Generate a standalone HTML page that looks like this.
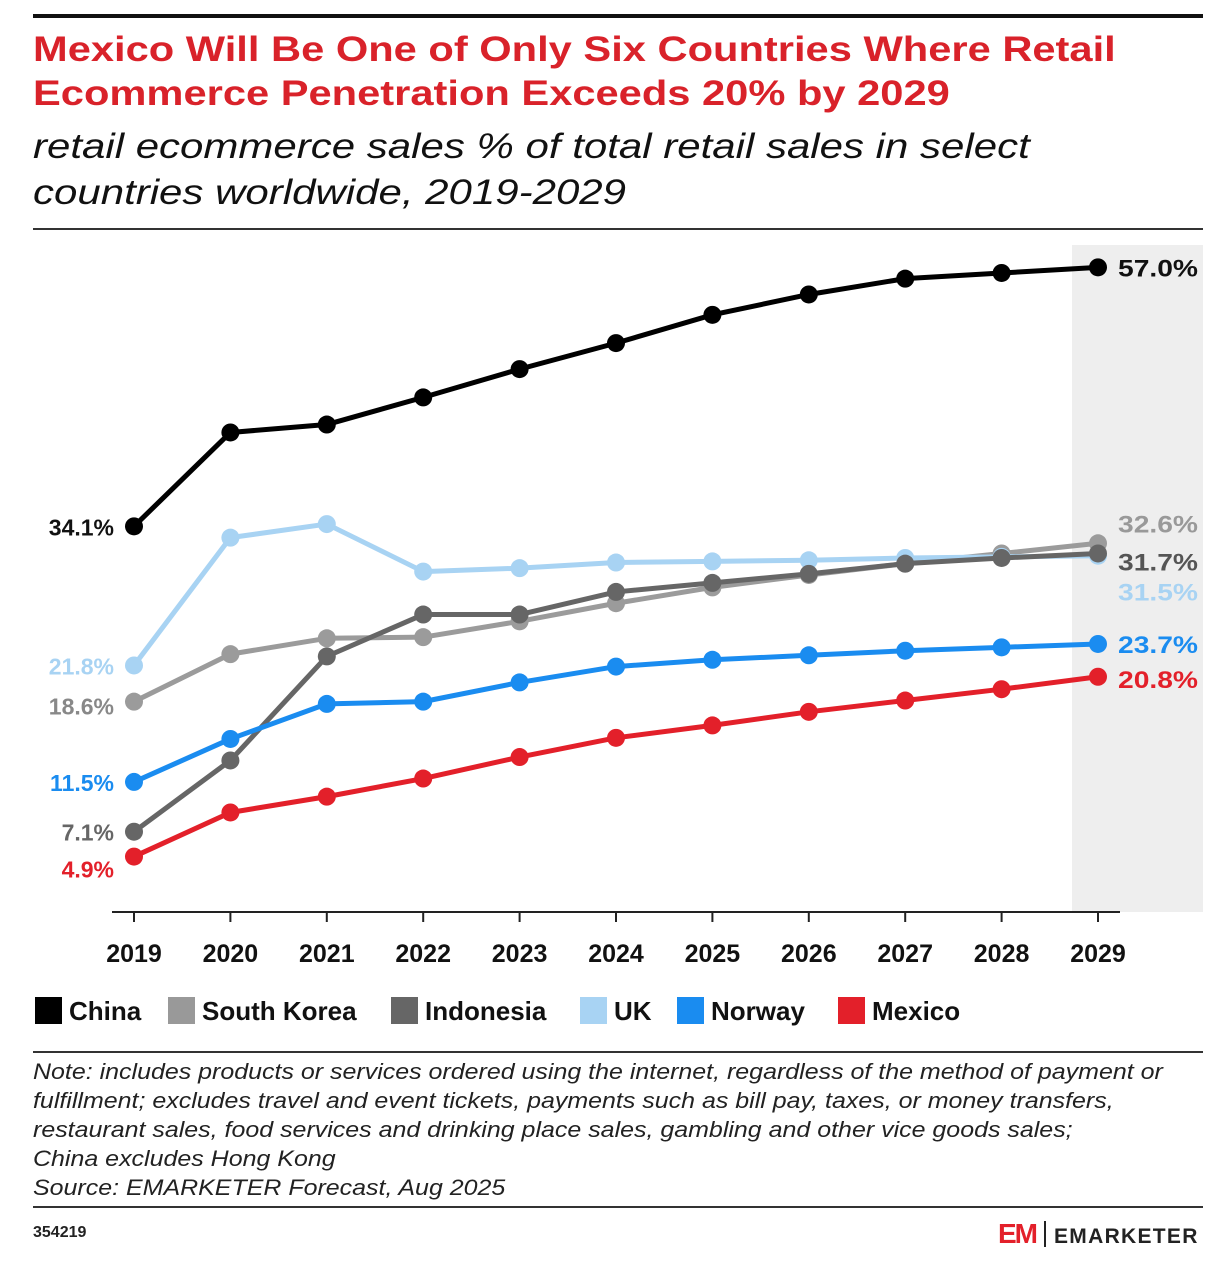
<!DOCTYPE html>
<html><head><meta charset="utf-8"><style>
body{margin:0;background:#fff;width:1220px;height:1280px;overflow:hidden;font-family:"Liberation Sans",sans-serif;position:relative}
.abs{position:absolute}
</style></head><body>
<div class="abs" style="left:33px;top:14px;width:1170px;height:4px;background:#111"></div>
<div class="abs" style="left:33px;top:28px;font-size:35px;font-weight:bold;color:#d9222a;line-height:44px;transform:scaleX(1.19);transform-origin:left top;white-space:nowrap">Mexico Will Be One of Only Six Countries Where Retail<br>Ecommerce Penetration Exceeds 20% by 2029</div>
<div class="abs" style="left:33px;top:124px;font-size:35px;font-style:italic;color:#111;line-height:46px;transform:scaleX(1.2);transform-origin:left top;white-space:nowrap">retail ecommerce sales % of total retail sales in select<br>countries worldwide, 2019-2029</div>
<div class="abs" style="left:33px;top:228px;width:1170px;height:2px;background:#333"></div>
<svg class="abs" style="left:0;top:0" width="1220" height="1280" id="chart"></svg>
<div class="abs" style="left:33px;top:1051px;width:1170px;height:2px;background:#333"></div>
<div class="abs" style="left:33px;top:1057px;font-size:22px;font-style:italic;color:#222;line-height:29px;transform:scaleX(1.135);transform-origin:left top;white-space:nowrap">Note: includes products or services ordered using the internet, regardless of the method of payment or<br>fulfillment; excludes travel and event tickets, payments such as bill pay, taxes, or money transfers,<br>restaurant sales, food services and drinking place sales, gambling and other vice goods sales;<br>China excludes Hong Kong<br>Source: EMARKETER Forecast, Aug 2025</div>
<div class="abs" style="left:33px;top:1206px;width:1170px;height:2px;background:#333"></div>
<div class="abs" style="left:33px;top:1224px;font-size:16px;font-weight:bold;color:#222">354219</div>
<div class="abs" style="left:998px;top:1218px;font-size:21px;font-weight:bold;color:#222;letter-spacing:1.3px"><span style="color:#e3202a;font-size:28px;letter-spacing:-2px">EM</span><span style="display:inline-block;width:2px;height:26px;background:#222;margin:0 8px;vertical-align:-4px"></span>EMARKETER</div>
<script>
const years=[2019,2020,2021,2022,2023,2024,2025,2026,2027,2028,2029];
const china=[34.1,42.4,43.1,45.5,48.0,50.3,52.8,54.6,56.0,56.5,57.0];
const southKorea=[18.6,22.8,24.2,24.3,25.7,27.3,28.7,29.8,30.8,31.7,32.6];
const indonesia=[7.1,13.4,22.6,26.3,26.3,28.3,29.1,29.9,30.8,31.3,31.7];
const uk=[21.8,33.1,34.3,30.1,30.4,30.9,31.0,31.1,31.3,31.4,31.5];
const norway=[11.5,15.3,18.4,18.6,20.3,21.7,22.3,22.7,23.1,23.4,23.7];
const mexico=[4.9,8.8,10.2,11.8,13.7,15.4,16.5,17.7,18.7,19.7,20.8];
const seriesNames=["China","South Korea","Indonesia","UK","Norway","Mexico"];
const NS="http://www.w3.org/2000/svg",svg=document.getElementById('chart');
const x=i=>134+i*96.4, y=v=>912-v*11.31;
function mk(t,a,p){const e=document.createElementNS(NS,t);for(const k in a)e.setAttribute(k,a[k]);(p||svg).appendChild(e);return e;}
const shade=mk('rect',{x:1072,y:245,width:131,height:667,fill:'#eeeeee'});


const ax=mk('line',{x1:112,x2:1120,y1:912,y2:912,stroke:'#222','stroke-width':2});


years.forEach((yr,i)=>{
 mk('line',{x1:x(i),x2:x(i),y1:912,y2:922,stroke:'#222','stroke-width':2});
 const t=mk('text',{x:x(i),y:962,'text-anchor':'middle','font-size':25,'font-weight':'bold',fill:'#111'});t.textContent=yr;
 
 
});
const defs=[[southKorea,'#9b9b9b','south-korea'],[uk,'#a8d3f3','uk'],[indonesia,'#666666','indonesia'],[norway,'#1a8cf0','norway'],[mexico,'#e3202a','mexico'],[china,'#000000','china']];
defs.forEach(([d,c,n])=>{
 const g=mk('g',{});
 
 
 mk('polyline',{points:d.map((v,i)=>x(i)+','+y(v)).join(' '),fill:'none',stroke:c,'stroke-width':5,'stroke-linejoin':'round'},g);
 d.forEach((v,i)=>{const p=mk('circle',{cx:x(i),cy:y(v),r:9,fill:c},g);
  
  });
});
const startLabels=[[china,'#111',0],[uk,'#a8d3f3',0],[southKorea,'#888',4],[norway,'#1a8cf0',0],[indonesia,'#666',0],[mexico,'#e3202a',12]];
startLabels.forEach(([d,c,dy])=>{const t=mk('text',{x:114,y:y(d[0])+9+dy,'text-anchor':'end','font-size':23,'font-weight':'bold',fill:c});t.textContent=d[0].toFixed(1)+'%';
 
 });
const endLabels=[[china,'#111',0],[southKorea,'#999',-20],[indonesia,'#555',8],[uk,'#a8d3f3',36],[norway,'#1a8cf0',0],[mexico,'#e3202a',2]];
endLabels.forEach(([d,c,dy])=>{const t=mk('text',{x:1118,y:y(d[10])+9+dy,'font-size':24,'font-weight':'bold',fill:c,textLength:80,lengthAdjust:'spacingAndGlyphs'});t.textContent=d[10].toFixed(1)+'%';
 
 });
const legColors=['#000','#999','#666','#a8d3f3','#1a8cf0','#e3202a'];
const legX=[35,168,391,580,677,838];
seriesNames.forEach((n,i)=>{const g=mk('g',{});
 
 
 mk('rect',{x:legX[i],y:997,width:27,height:27,fill:legColors[i]},g);
 const t=mk('text',{x:legX[i]+34,y:1020,'font-size':26,'font-weight':'bold',fill:'#111'},g);t.textContent=n;});
</script>
</body></html>
